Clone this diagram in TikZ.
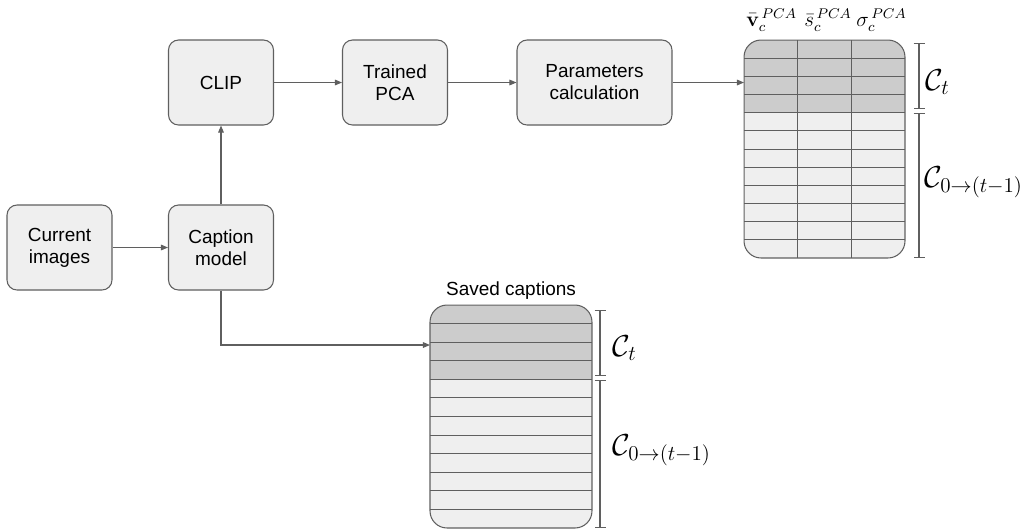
\documentclass[tikz,border=0pt]{standalone}
\usepackage[no-math]{fontspec}
\setmainfont{Liberation Sans}
\usepackage{tikz}
\usetikzlibrary{arrows.meta,calc}
\definecolor{Box}{HTML}{EFEFEF}
\definecolor{Edge}{HTML}{5F5F5F}
\definecolor{Dark}{HTML}{CCCCCC}
\tikzset{
  block/.style={draw=Edge,fill=Box,line width=0.6pt,rounded corners=0.2cm,
    minimum width=2.1cm,minimum height=1.7cm,inner sep=0pt,align=center,
    font=\fontsize{10.8}{12.5}\selectfont},
  flow/.style={draw=Edge,line width=0.6pt,-{Triangle[length=4pt,width=3.2pt]}},
  span/.style={draw=Edge,line width=0.6pt,{Bar[width=0.22cm]}-{Bar[width=0.22cm]}},
  tabarea/.style={inner sep=0pt,outer sep=0pt},
  setlab/.style={anchor=west,inner sep=0pt,font=\fontsize{17}{20}\selectfont},
  headlab/.style={anchor=base west,inner sep=0pt,font=\fontsize{11.5}{13}\selectfont}
}

\begin{document}
\begin{tikzpicture}[x=0.02cm,y=-0.02cm]
    \useasboundingbox (0,0) rectangle (1030,529);

    \node[block] (imgs) at (59.5,247.5) {Current\\images};
    \node[block] (capmodel) at (221,247.5) {Caption\\model};
    \node[block] (clip) at (221,82.5) {CLIP};
    \node[block] (pca) at (395,82.5) {Trained\\PCA};
    \node[block,minimum width=3.1cm] (params) at (594.5,82.5) {Parameters\\calculation};

    \node[tabarea,minimum width=3.22cm,minimum height=4.36cm] (ptab) at (824.5,149) {};
    \node[tabarea,minimum width=3.24cm,minimum height=4.46cm] (caps) at (511,416.5) {};

    \begin{scope}
      \clip[rounded corners=0.34cm] (ptab.south west) rectangle (ptab.north east);
      \fill[Box] (ptab.south west) rectangle (ptab.north east);
      \fill[Dark] (744,40) rectangle (905,{40+4*218/12});
      \foreach \r in {1,...,11}
        \draw[Edge,line width=0.5pt] (744,{40+\r*218/12}) -- (905,{40+\r*218/12});
      \foreach \c in {1,2}
        \draw[Edge,line width=0.5pt] ({744+\c*161/3},40) -- ({744+\c*161/3},258);
      \draw[Edge,line width=0.9pt] (744,{40+4*218/12}) -- (905,{40+4*218/12});
    \end{scope}
    \draw[Edge,line width=0.6pt,rounded corners=0.34cm] (ptab.south west) rectangle (ptab.north east);

    \begin{scope}
      \clip[rounded corners=0.34cm] (caps.south west) rectangle (caps.north east);
      \fill[Box] (caps.south west) rectangle (caps.north east);
      \fill[Dark] (430,305) rectangle (592,{305+4*223/12});
      \foreach \r in {1,...,11}
        \draw[Edge,line width=0.5pt] (430,{305+\r*223/12}) -- (592,{305+\r*223/12});
      \draw[Edge,line width=0.9pt] (430,{305+4*223/12}) -- (592,{305+4*223/12});
    \end{scope}
    \draw[Edge,line width=0.6pt,rounded corners=0.34cm] (caps.south west) rectangle (caps.north east);

    \foreach \x/\lab [count=\i] in {
      746/{$\bar{\mathbf{v}}_c^{\,PCA}$},
      804/{$\bar{s}_c^{\,PCA}$},
      856/{$\sigma_c^{\,PCA}$}
    }{
      \node[headlab] (head\i) at (\x,26) {\lab};
    }
    \node[font=\fontsize{10.8}{12.5}\selectfont,inner sep=0pt] (capstitle) at (511,291) {Saved captions};

    \coordinate (pin) at (744,82.5);
    \coordinate (capin) at (430,345);
    \draw[flow] (imgs) -- (capmodel);
    \draw[flow] (capmodel) -- (clip);
    \draw[flow] (clip) -- (pca);
    \draw[flow] (pca) -- (params);
    \draw[flow] (params) -- (pin);
    \draw[flow] (capmodel.south) |- (capin);

    \coordinate (pt1) at (919,43);
    \coordinate (pt2) at (919,109);
    \coordinate (pt3) at (919,113);
    \coordinate (pt4) at (919,258);
    \draw[span] (pt1) -- (pt2);
    \draw[span] (pt3) -- (pt4);
    \node[setlab] (ptnew) at (925,82) {$\mathcal{C}_t$};
    \node[setlab] (ptold) at (924,182) {$\mathcal{C}_{0\rightarrow(t-1)}$};

    \coordinate (ct1) at (600,310);
    \coordinate (ct2) at (600,376);
    \coordinate (ct3) at (600,380);
    \coordinate (ct4) at (600,528);
    \draw[span] (ct1) -- (ct2);
    \draw[span] (ct3) -- (ct4);
    \node[setlab] (capnew) at (612,348) {$\mathcal{C}_t$};
    \node[setlab] (capold) at (612,450) {$\mathcal{C}_{0\rightarrow(t-1)}$};
  \end{tikzpicture}
\end{document}
